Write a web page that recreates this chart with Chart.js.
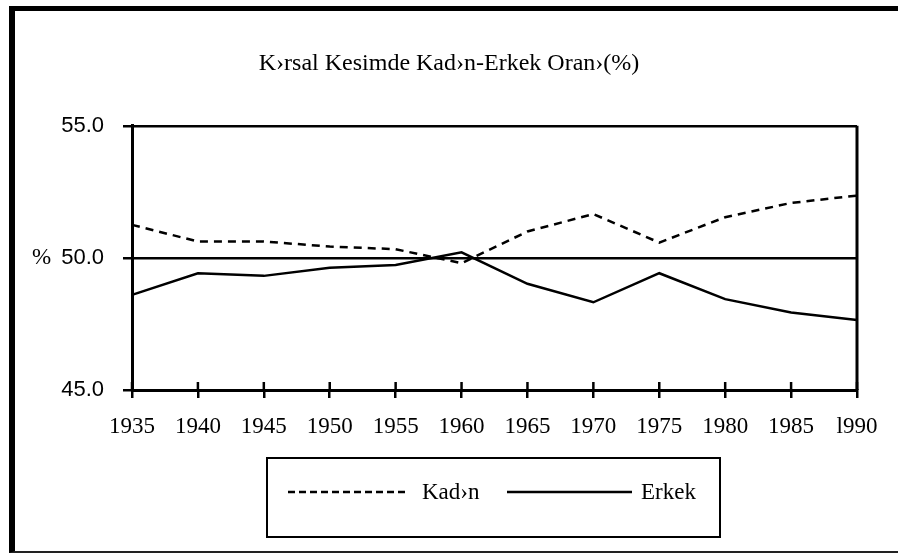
<!DOCTYPE html>
<html>
<head>
<meta charset="utf-8">
<script src="https://cdn.jsdelivr.net/npm/chart.js@4.4.1/dist/chart.umd.min.js"></script>
<style>
  html, body { margin: 0; padding: 0; background: #fff; overflow: hidden; }
  #wrap { position: relative; width: 898px; height: 553px; }
  #frame {
    position: absolute; left: 9px; top: 6px; width: 950px; height: 547px;
    box-sizing: border-box; border-left: 6px solid #000; border-top: 5px solid #000;
    border-bottom: 2px solid #222; pointer-events: none;
  }
  canvas { position: absolute; left: 0; top: 0; }
</style>
</head>
<body>
<div id="wrap">
  <canvas id="grafico" width="898" height="553"></canvas>
  <div id="frame"></div>
</div>
<script>
// Datos
const anios = ['1935', '1940', '1945', '1950', '1955', '1960', '1965', '1970', '1975', '1980', '1985', 'l990'];
const kadin = [51.25, 50.62, 50.62, 50.43, 50.33, 49.80, 51.00, 51.66, 50.58, 51.54, 52.08, 52.36];
const erkek = [48.60, 49.42, 49.32, 49.63, 49.73, 50.21, 49.02, 48.32, 49.42, 48.44, 47.93, 47.65];
const ejeY = { min: 45, max: 55, paso: 5 };
const titulo = 'K›rsal Kesimde Kad›n-Erkek Oran›(%)';

const serif = 'Liberation Serif';
const sans = 'Liberation Sans';

// Borde del area, marcas interiores del eje x, signo % y leyenda
const extras = {
    id: 'extras',
    beforeDatasetsDraw(chart) {
        const { ctx, chartArea: a, scales } = chart;
        ctx.save();
        ctx.strokeStyle = '#000';
        ctx.lineWidth = 3;
        ctx.beginPath();
        ctx.moveTo(a.right, a.top);
        ctx.lineTo(a.right, a.bottom);
        ctx.stroke();
        ctx.lineWidth = 2.5;
        scales.x.ticks.forEach((t, i) => {
            const x = scales.x.getPixelForTick(i);
            ctx.beginPath();
            ctx.moveTo(x, a.bottom);
            ctx.lineTo(x, a.bottom - 8);
            ctx.stroke();
        });
        ctx.restore();
    },
    afterDraw(chart) {
        const { ctx, scales } = chart;
        ctx.save();
        ctx.fillStyle = '#000';
        ctx.font = '23px "' + serif + '"';
        ctx.textBaseline = 'middle';
        ctx.textAlign = 'left';
        ctx.fillText('%', 32, scales.y.getPixelForValue(50));

        // leyenda
        ctx.strokeStyle = '#000';
        ctx.lineWidth = 2;
        ctx.strokeRect(267, 458, 453, 79);
        const items = [
            { x1: 288, x2: 405, tx: 422 },
            { x1: 507, x2: 632, tx: 641 }
        ];
        chart.data.datasets.forEach((ds, i) => {
            const it = items[i];
            ctx.lineWidth = 2.5;
            ctx.setLineDash(ds.borderDash && ds.borderDash.length ? [7, 4] : []);
            ctx.beginPath();
            ctx.moveTo(it.x1, 492);
            ctx.lineTo(it.x2, 492);
            ctx.stroke();
            ctx.setLineDash([]);
            ctx.fillText(ds.label, it.tx, 493);
        });
        ctx.restore();
    }
};

new Chart(document.getElementById('grafico'), {
    type: 'line',
    data: {
        labels: anios,
        datasets: [{
            label: 'Kad›n',
            data: kadin,
            borderColor: '#000',
            borderWidth: 2.5,
            borderDash: [8, 6],
            pointRadius: 0,
            tension: 0,
            fill: false
        }, {
            label: 'Erkek',
            data: erkek,
            borderColor: '#000',
            borderWidth: 2.5,
            pointRadius: 0,
            tension: 0,
            fill: false
        }]
    },
    options: {
        responsive: false,
        animation: false,
        layout: { padding: { left: 41, right: 41, top: 0, bottom: 113 } },
        plugins: {
            legend: { display: false },
            tooltip: { enabled: false },
            title: {
                display: true,
                text: titulo,
                color: '#000',
                font: { family: serif, size: 24, weight: 'normal' },
                padding: { top: 49, bottom: 48 }
            }
        },
        scales: {
            x: {
                grid: { drawOnChartArea: false, color: '#000', lineWidth: 2.5, tickLength: 8 },
                border: { color: '#000', width: 3 },
                ticks: { color: '#000', font: { family: serif, size: 23 }, padding: 15, maxRotation: 0, autoSkip: false },
                afterFit(scale) { scale.height = 50; }
            },
            y: {
                min: ejeY.min,
                max: ejeY.max,
                grid: { color: '#000', lineWidth: 2.5, tickLength: 9 },
                border: { color: '#000', width: 3 },
                ticks: {
                    stepSize: ejeY.paso,
                    color: '#000',
                    font: { family: sans, size: 22 },
                    padding: 19,
                    callback: v => v.toFixed(1)
                },
                afterFit(scale) { scale.width = 91; }
            }
        }
    },
    plugins: [extras]
});
</script>
</body>
</html>
